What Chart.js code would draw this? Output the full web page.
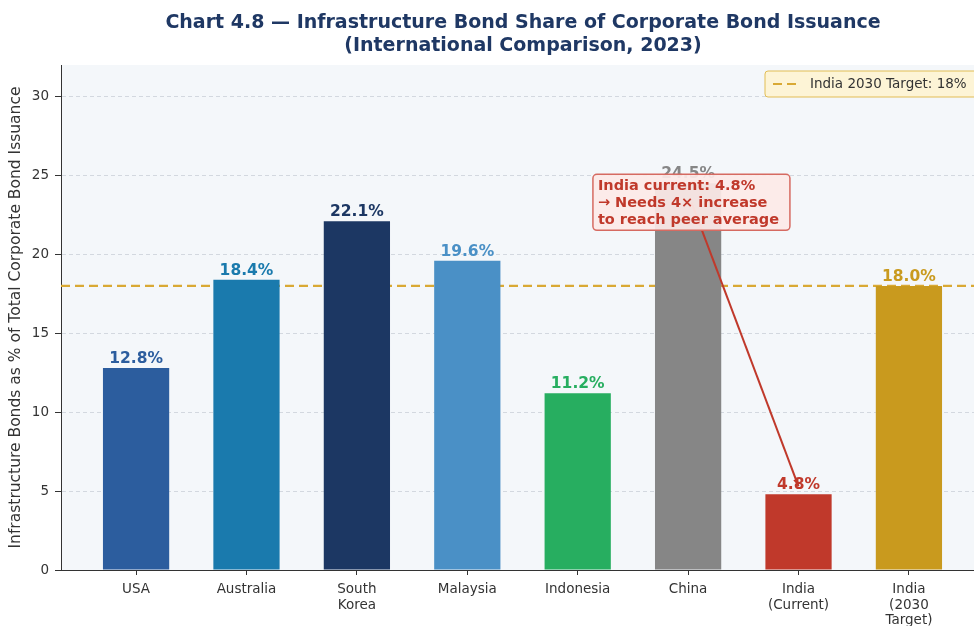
<!DOCTYPE html>
<html>
<head>
<meta charset="utf-8">
<script src="https://cdn.jsdelivr.net/npm/chart.js@4"></script>
<style>
  html, body { margin: 0; padding: 0; background: #fff; overflow: hidden; }
  #wrap { width: 1044px; height: 626px; }
</style>
</head>
<body>
<div id="wrap"><canvas id="bondChart" width="1044" height="626"></canvas></div>
<script>
// infra bond share of corporate issuance, 2023
const countries = [['USA'], ['Australia'], ['South', 'Korea'], ['Malaysia'], ['Indonesia'], ['China'], ['India', '(Current)'], ['India', '(2030', 'Target)']];
const infraShare = [12.8, 18.4, 22.1, 19.6, 11.2, 24.5, 4.8, 18.0];
const barColors = ['#2c5d9e', '#1a7aad', '#1c3763', '#4a90c6', '#27ae60', '#868686', '#c0392b', '#c99a1e'];
const targetShare = 18;
const yTicks = [0, 5, 10, 15, 20, 25, 30];
const noteLines = ['India current: 4.8%', '\u2192 Needs 4\u00d7 increase', 'to reach peer average'];
const titleLines = ['Chart 4.8 \u2014 Infrastructure Bond Share of Corporate Bond Issuance', '(International Comparison, 2023)'];
const targetLabel = 'India 2030 Target: 18%';

const FONT = "'DejaVu Sans', sans-serif";
Chart.defaults.font.family = FONT;

const plotBg = {
  id: 'plotBg',
  beforeDraw(chart) {
    const { ctx, chartArea: a } = chart;
    ctx.save();
    ctx.fillStyle = '#f4f7fa';
    ctx.fillRect(a.left, a.top, a.right - a.left, a.bottom - a.top);
    ctx.restore();
  }
};

const barValues = {
  id: 'barValues',
  afterDatasetsDraw(chart) {
    const { ctx } = chart;
    const meta = chart.getDatasetMeta(0);
    ctx.save();
    ctx.font = 'bold 15.5px ' + FONT;
    ctx.textAlign = 'center';
    ctx.textBaseline = 'alphabetic';
    meta.data.forEach((bar, i) => {
      ctx.fillStyle = barColors[i];
      ctx.fillText(infraShare[i].toFixed(1) + '%', bar.x, bar.y - 5);
    });
    ctx.restore();
  }
};

// callout box + arrow to the India bar
const indiaNote = {
  id: 'indiaNote',
  afterDatasetsDraw(chart) {
    const { ctx, scales: { x, y } } = chart;
    const cx = x.getPixelForValue(5.03);
    const cy = y.getPixelForValue(23.3);
    const tx = x.getPixelForValue(6);
    const ty = y.getPixelForValue(5.3);

    ctx.save();
    ctx.strokeStyle = '#c0392b';
    ctx.fillStyle = '#c0392b';
    ctx.lineWidth = 2;
    ctx.beginPath();
    ctx.moveTo(cx, cy);
    ctx.lineTo(tx, ty);
    ctx.stroke();
    const ang = Math.atan2(ty - cy, tx - cx);
    ctx.beginPath();
    ctx.moveTo(tx, ty);
    ctx.lineTo(tx - 8 * Math.cos(ang - 0.35), ty - 8 * Math.sin(ang - 0.35));
    ctx.lineTo(tx - 8 * Math.cos(ang + 0.35), ty - 8 * Math.sin(ang + 0.35));
    ctx.closePath();
    ctx.fill();

    const w = 197, h = 56;
    const bx = cx - w / 2, by = cy - h / 2;
    ctx.beginPath();
    ctx.roundRect(bx, by, w, h, 4);
    ctx.fillStyle = 'rgba(252, 233, 231, 0.93)';
    ctx.fill();
    ctx.lineWidth = 1.5;
    ctx.strokeStyle = '#d66a61';
    ctx.stroke();

    ctx.font = 'bold 14.5px ' + FONT;
    ctx.fillStyle = '#c0392b';
    ctx.textAlign = 'left';
    ctx.textBaseline = 'alphabetic';
    noteLines.forEach((t, i) => ctx.fillText(t, bx + 5, by + 16 + i * 16.8));
    ctx.restore();
  }
};

const titleAndLegend = {
  id: 'titleAndLegend',
  afterDraw(chart) {
    const { ctx, chartArea: a } = chart;
    ctx.save();
    ctx.font = 'bold 19px ' + FONT;
    ctx.fillStyle = '#1f3864';
    ctx.textAlign = 'center';
    ctx.textBaseline = 'alphabetic';
    ctx.fillText(titleLines[0], 523, 28);
    ctx.fillText(titleLines[1], 523, 51);

    // legend for the target line
    const lx = 765, ly = 71, lw = a.right - 6 - lx, lh = 26;
    ctx.beginPath();
    ctx.roundRect(lx, ly, lw, lh, 3);
    ctx.fillStyle = '#fdf4d6';
    ctx.fill();
    ctx.lineWidth = 1;
    ctx.strokeStyle = '#e2bd55';
    ctx.stroke();
    ctx.beginPath();
    ctx.setLineDash([9, 5]);
    ctx.strokeStyle = '#d9a934';
    ctx.lineWidth = 2.2;
    ctx.moveTo(lx + 8, ly + 13);
    ctx.lineTo(lx + 36, ly + 13);
    ctx.stroke();
    ctx.setLineDash([]);
    ctx.font = '13.5px ' + FONT;
    ctx.fillStyle = '#333';
    ctx.textAlign = 'left';
    ctx.textBaseline = 'middle';
    ctx.fillText(targetLabel, lx + 45, ly + 13);
    ctx.restore();
  }
};

new Chart(document.getElementById('bondChart'), {
  data: {
    datasets: [
      {
        type: 'bar',
        data: infraShare.map((v, i) => ({ x: i, y: v })),
        backgroundColor: barColors,
        barPercentage: 0.6,
        categoryPercentage: 1,
        order: 1
      },
      {
        type: 'line',
        data: [{ x: -0.68, y: targetShare }, { x: 7.68, y: targetShare }],
        borderColor: '#d9a934',
        borderWidth: 2.2,
        borderDash: [9, 5],
        pointRadius: 0,
        order: 2
      }
    ]
  },
  options: {
    responsive: false,
    animation: false,
    layout: { padding: { top: 65, right: 60, left: 0, bottom: 0 } },
    plugins: {
      legend: { display: false },
      tooltip: { enabled: false },
      title: { display: false }
    },
    scales: {
      x: {
        type: 'linear',
        min: -0.68,
        max: 7.68,
        offset: false,
        afterBuildTicks: s => { s.ticks = countries.map((_, i) => ({ value: i })); },
        afterFit: s => { s.height = 56; },
        grid: { offset: false, drawOnChartArea: false, tickLength: 5, tickColor: '#333' },
        border: { color: '#333', width: 1 },
        ticks: {
          callback: v => countries[v],
          color: '#333',
          font: { size: 13.5, lineHeight: 1.15 },
          padding: 7,
          maxRotation: 0,
          autoSkip: false
        }
      },
      y: {
        min: 0,
        max: 32,
        afterBuildTicks: s => { s.ticks = yTicks.map(v => ({ value: v })); },
        afterFit: s => { s.width = 61; },
        grid: { color: '#d3d8df', lineWidth: 1, tickLength: 6, tickColor: '#333' },
        border: { color: '#333', width: 1, dash: [4, 3] },
        ticks: { color: '#333', font: { size: 13.5 }, padding: 6 },
        title: {
          display: true,
          text: 'Infrastructure Bonds as % of Total Corporate Bond Issuance',
          color: '#333',
          font: { size: 15.5 },
          padding: { top: 7, bottom: 0 }
        }
      }
    }
  },
  plugins: [plotBg, barValues, indiaNote, titleAndLegend]
});
</script>
</body>
</html>
